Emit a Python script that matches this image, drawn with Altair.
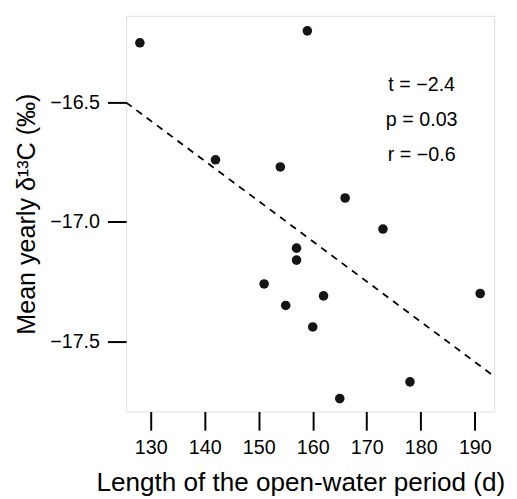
import altair as alt
import pandas as pd

# Data
open_water_days = [128, 142, 159, 154, 166, 173, 157, 157, 151, 155, 162, 160, 191, 178, 165]
mean_d13c = [-16.25, -16.74, -16.20, -16.77, -16.90, -17.03, -17.11, -17.16,
             -17.26, -17.35, -17.31, -17.44, -17.30, -17.67, -17.74]
fit_days = [125.45, 193.6]
fit_d13c = [-16.50, -17.647]
x_ticks = [130, 140, 150, 160, 170, 180, 190]
y_ticks = [-16.5, -17.0, -17.5]
stats_labels = ["t = −2.4", "p = 0.03", "r = −0.6"]

pts = pd.DataFrame({"days": open_water_days, "d13c": mean_d13c})
fit = pd.DataFrame({"days": fit_days, "d13c": fit_d13c})

FONT = "Liberation Sans"

xscale = alt.Scale(domain=[125.45, 193.6], nice=False, zero=False)
yscale = alt.Scale(domain=[-17.794, -16.137], nice=False, zero=False)

xaxis = alt.Axis(values=x_ticks, format="d", title="Length of the open-water period (d)",
                 tickSize=19, tickWidth=2, tickColor="black", labelPadding=8,
                 labelFontSize=20, labelFont=FONT, labelColor="black",
                 titleFontSize=26.5, titleFont=FONT, titleFontWeight="normal",
                 titleColor="black", titlePadding=12, titleX=177, titleAlign="center",
                 grid=False, domain=False)
yaxis = alt.Axis(values=y_ticks, format=".1f", title="Mean yearly δ¹³C (‰)",
                 tickSize=19, tickWidth=2, tickColor="black", labelPadding=8,
                 labelFontSize=20, labelFont=FONT, labelColor="black",
                 titleFontSize=25.5, titleFont=FONT, titleFontWeight="normal",
                 titleColor="black", titlePadding=10, grid=False, domain=False)

points = alt.Chart(pts).mark_circle(size=95, color="#151515", opacity=1).encode(
    x=alt.X("days:Q", scale=xscale, axis=xaxis),
    y=alt.Y("d13c:Q", scale=yscale, axis=yaxis),
)

line = alt.Chart(fit).mark_line(color="black", strokeDash=[7, 6], strokeWidth=1.8, clip=True).encode(
    x=alt.X("days:Q", scale=xscale),
    y=alt.Y("d13c:Q", scale=yscale),
)

layers = [line, points]
ys = [64.7, 99.7, 135.3]
for lab, yy in zip(stats_labels, ys):
    layers.append(
        alt.Chart(pd.DataFrame({"label": [lab]})).mark_text(
            font=FONT, fontSize=20, color="black", align="center", baseline="alphabetic"
        ).encode(text="label:N", x=alt.value(300.3), y=alt.value(yy + 12))
    )

chart = alt.layer(*layers).properties(
    width=374, height=402,
    padding={"left": 120, "top": 4, "right": 15, "bottom": 85},
    autosize=alt.AutoSizeParams(type="none"),
).configure_view(stroke="black", strokeWidth=2).configure(background="white")

chart.save("out.html", embed_options={"renderer": "svg", "actions": False})
